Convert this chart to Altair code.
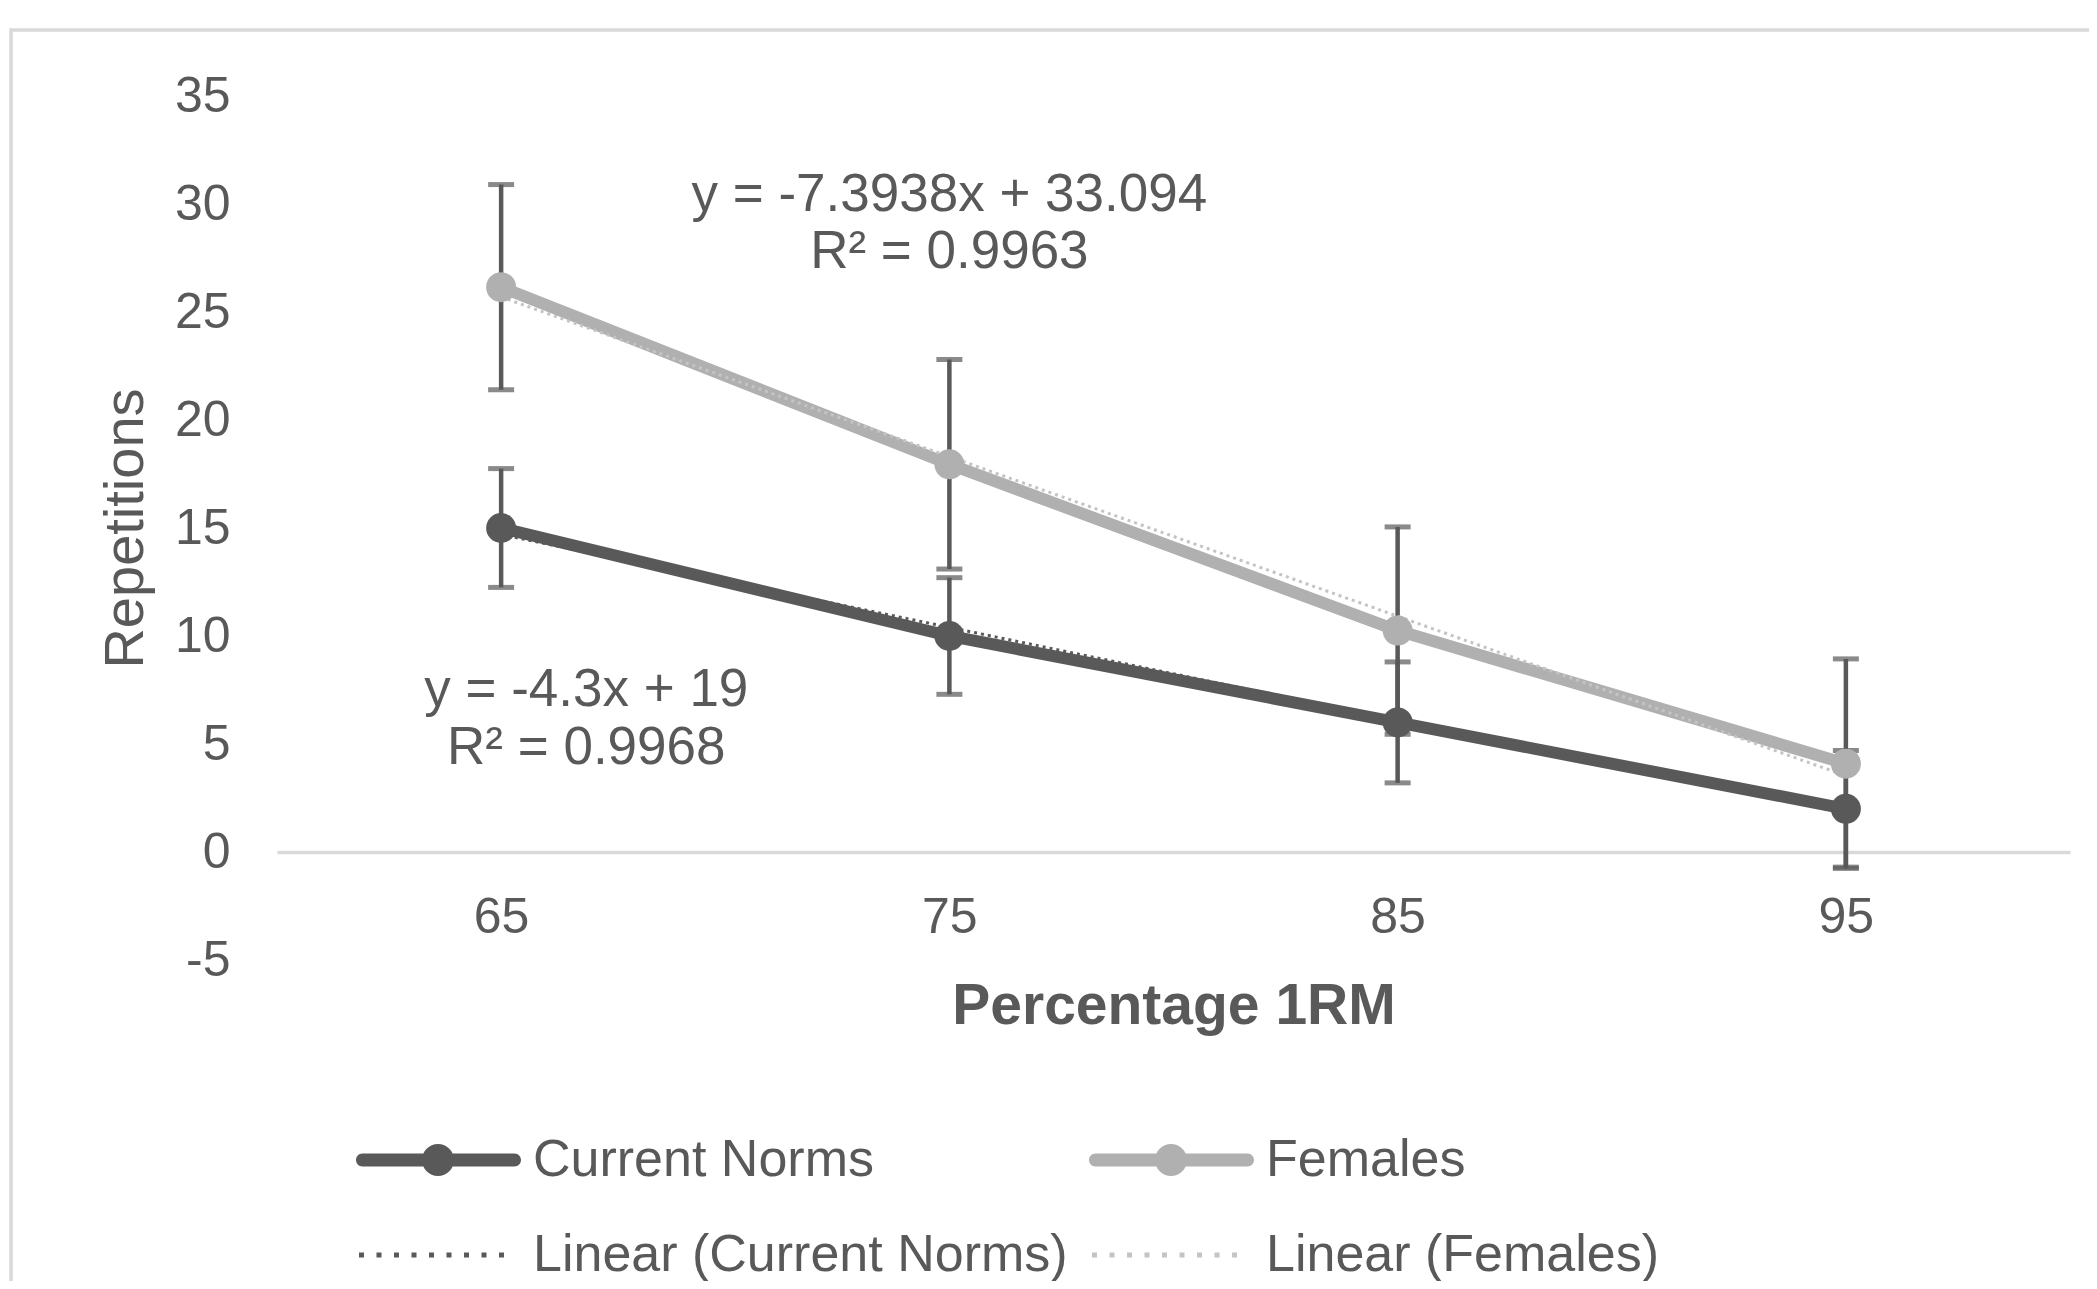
import altair as alt
import pandas as pd

# ---- values ----
pct = [65, 75, 85, 95]
current_norms = [15.0, 10.0, 6.0, 2.0]
current_norms_err = [2.75, 2.7, 2.8, 2.7]
females = [26.15, 17.95, 10.25, 4.09]
females_err = [4.75, 4.85, 4.8, 4.85]
series_names = ["Current Norms", "Females"]
legend_labels = ["Current Norms", "Females", "Linear (Current Norms)", "Linear (Females)"]
y_tick_values = [-5, 0, 5, 10, 15, 20, 25, 30, 35]
x_title = "Percentage 1RM"
y_title = "Repetitions"
equation_text = ["y = -7.3938x + 33.094", "R² = 0.9963", "y = -4.3x + 19", "R² = 0.9968"]
equation_x = [75, 75, 66.9, 66.9]
equation_y = [30.4, 27.8, 7.5, 4.8]

# ---- tables ----
rows = []
for name, vals, errs in zip(series_names, [current_norms, females], [current_norms_err, females_err]):
    for p, v, e in zip(pct, vals, errs):
        rows.append({"series": name, "pct": p, "value": v, "err": e})
df = pd.DataFrame(rows)
legend_df = pd.DataFrame({
    "label": legend_labels,
    "pct": [pct[0]] * 4,
    "value": [current_norms[0], females[0], current_norms[0], females[0]],
})
eq_df = pd.DataFrame({"t": equation_text, "ex": equation_x, "ey": equation_y})

# ---- style ----
DARK = "#595959"
LIGHT = "#b0b0b0"
LIGHT_TREND = "#c4c4c4"
GRID = "#d9d9d9"
FONT = "Liberation Sans"
W, H = 1793, 864
PAD_L, PAD_T = 269, 88

# legend symbols (unit = sqrt(size)/2 px)
S = 40.0
line_marker_path = (
    "M-0.675,-0.325H6.925A0.325,0.325 0 0,1 6.925,0.325H-0.675"
    "A0.325,0.325 0 0,1 -0.675,-0.325Z "
    "M3.9,0A0.8,0.8 0 1,1 2.3,0A0.8,0.8 0 1,1 3.9,0Z"
)
dot_parts = []
for k in range(9):
    x0 = -0.85 + k * 0.875
    dot_parts.append(f"M{x0:.3f},-0.125H{x0 + 0.25:.3f}V0.125H{x0:.3f}Z")
dotted_path = " ".join(dot_parts)

color_scale = alt.Scale(domain=legend_labels, range=[DARK, LIGHT, DARK, LIGHT_TREND])
xs = alt.Scale(domain=[60, 100], nice=False, zero=False)
ys = alt.Scale(domain=[-5, 35], nice=False, zero=False)
x_axis = alt.Axis(values=pct, format="d", title=x_title, offset=-108,
                  domainColor=GRID, domainWidth=3.5, ticks=False, grid=False,
                  labelFontSize=50, labelPadding=40, titleFontSize=57,
                  titleFontWeight="bold", titlePadding=36)
y_axis = alt.Axis(values=y_tick_values, labelExpr="'' + datum.value", title=y_title,
                  domain=False, ticks=False, grid=False, labelFontSize=50,
                  labelPadding=47, titleFontSize=56, titleFontWeight="normal",
                  titlePadding=20)


def xq(f):
    return alt.X(f, type="quantitative", scale=xs, axis=x_axis)


def yq(f):
    return alt.Y(f, type="quantitative", scale=ys, axis=y_axis)


base = alt.Chart(df)

frame = alt.Chart(pd.DataFrame({"f": [0]})).mark_rect(
    filled=False, stroke=GRID, strokeWidth=3.5
).encode(
    x=alt.value(-PAD_L + 3), x2=alt.value(W + 60),
    y=alt.value(-PAD_T + 22), y2=alt.value(H + 400),
)

with_bounds = base.transform_calculate(
    lo="datum.value - datum.err", hi="datum.value + datum.err"
)
err_rules = with_bounds.mark_rule(color=DARK, strokeWidth=4.5).encode(
    x=xq("pct"), y=yq("lo"), y2="hi:Q"
)
err_caps = with_bounds.transform_fold(["lo", "hi"], as_=["end", "endval"]).mark_tick(
    orient="horizontal", color=DARK, size=26, thickness=5
).encode(x=xq("pct"), y=yq("endval"))

lines = base.mark_line(strokeWidth=12).encode(
    x=xq("pct"), y=yq("value"),
    color=alt.Color("series:N", scale=color_scale, legend=None),
)
points = base.mark_point(filled=True, size=900, opacity=1).encode(
    x=xq("pct"), y=yq("value"),
    color=alt.Color("series:N", scale=color_scale, legend=None),
)
trend = base.transform_regression("pct", "value", groupby=["series"]).transform_calculate(
    trend="'Linear (' + datum.series + ')'"
).mark_line(strokeWidth=3, strokeDash=[3, 4]).encode(
    x=xq("pct"), y=yq("value"),
    color=alt.Color("trend:N", scale=color_scale, legend=None),
)

eq_text = alt.Chart(eq_df).mark_text(
    fontSize=53, color=DARK, align="center", baseline="middle", font=FONT
).encode(x=xq("ex"), y=yq("ey"), text="t:N")

legend_common = dict(
    orient="none", legendX=73, legendY=1038, columns=2, columnPadding=15,
    rowPadding=43, direction="horizontal", symbolSize=S * S, symbolStrokeWidth=0,
    symbolOpacity=1, labelFont=FONT, labelFontSize=52, labelColor=DARK,
    labelOffset=131, labelLimit=0, padding=0, title=None,
)
legend_layer = alt.Chart(legend_df).mark_point(filled=True, opacity=0).encode(
    x=xq("pct"), y=yq("value"),
    color=alt.Color("label:N", scale=color_scale, legend=alt.Legend(**legend_common)),
    shape=alt.Shape("label:N",
                    scale=alt.Scale(domain=legend_labels,
                                    range=[line_marker_path, line_marker_path,
                                           dotted_path, dotted_path]),
                    legend=alt.Legend(**legend_common)),
)

chart = alt.layer(
    frame, err_rules, err_caps, lines, trend, points, eq_text, legend_layer
).resolve_scale(
    color="independent", shape="independent"
).properties(
    width=W, height=H,
    padding={"left": PAD_L, "top": PAD_T, "right": 19, "bottom": 321},
    autosize=alt.AutoSizeParams(type="none"),
    background="white",
).configure(font=FONT).configure_view(
    stroke="transparent", strokeWidth=0
).configure_axis(
    labelColor=DARK, titleColor=DARK, labelFont=FONT, titleFont=FONT
)

chart.save("out.html", embed_options={"renderer": "svg", "actions": False})
